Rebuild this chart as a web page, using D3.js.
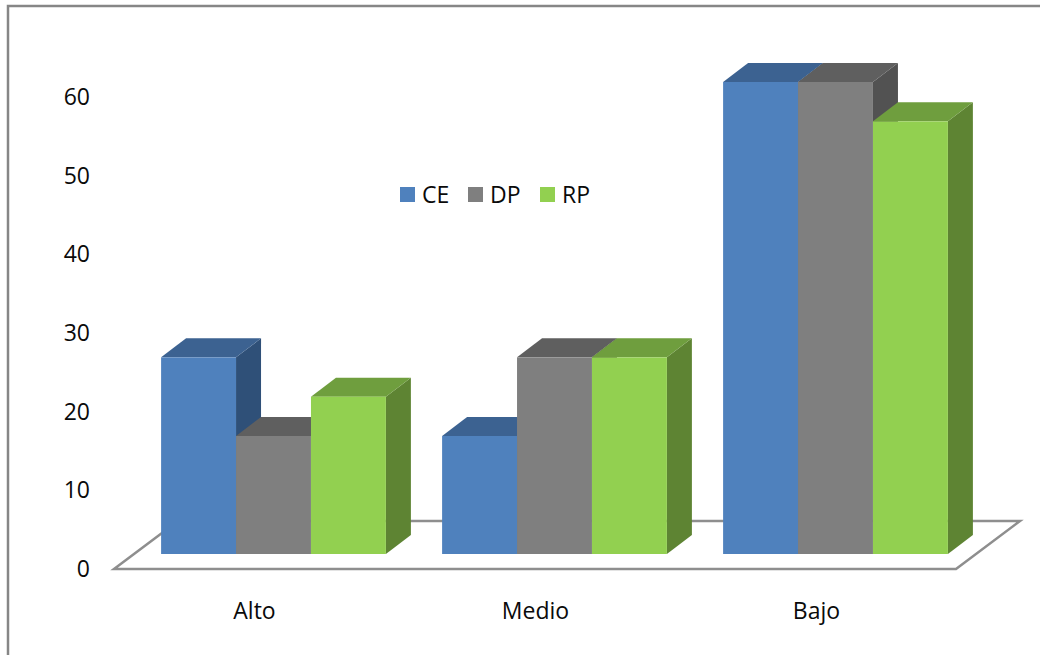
<!DOCTYPE html>
<html>
<head>
<meta charset="utf-8">
<script src="https://cdn.jsdelivr.net/npm/d3@7/dist/d3.min.js"></script>
<style>
html, body { margin: 0; padding: 0; background: #fff; overflow: hidden; }
svg { display: block; }
text { font-family: "Open Sans", Lato, sans-serif; fill: #0a0a0a; }
</style>
</head>
<body>
<svg id="chart" width="1040" height="655"></svg>
<script>
const categories = ["Alto", "Medio", "Bajo"];
const seriesNames = ["CE", "DP", "RP"];
const ceValues = [25, 15, 60];
const dpValues = [15, 25, 60];
const rpValues = [20, 25, 55];
const yTicks = [0, 10, 20, 30, 40, 50, 60];
const frontColors = ["#4f81bd", "#7f7f7f", "#92d050"];
const topColors = ["#3c6291", "#5f5f5f", "#6f9e3e"];
const sideColors = ["#2f5078", "#525252", "#5e8433"];

const svg = d3.select("#chart");
const depth = { x: 25, y: -19 };
const floor = { left: 114, right: 956, front: 569, dx: 64, dy: -48 };
const fontSize = "23px";

const y = d3.scaleLinear().domain([0, 60]).range([554, 82]);
const xGroup = d3.scaleBand().domain(categories).range([133, 976]).paddingInner(0.2).paddingOuter(0.1);
const xSeries = d3.scaleBand().domain(seriesNames).range([0, xGroup.bandwidth()]);
const xLabel = d3.scaleBand().domain(categories).range([floor.left, floor.left + 843]);

// Outer frame: only the top and left edges are visible
svg.append("path")
  .attr("d", "M8,655V6H1040")
  .attr("fill", "none").attr("stroke", "#868686").attr("stroke-width", 2.5);

// Floor of the 3D plot
svg.append("path")
  .attr("d", d3.line()([
    [floor.left, floor.front],
    [floor.right, floor.front],
    [floor.right + floor.dx, floor.front + floor.dy],
    [floor.left + floor.dx, floor.front + floor.dy]
  ]) + "Z")
  .attr("fill", "none").attr("stroke", "#8e8e8e").attr("stroke-width", 2.5);

// One row per bar, in left-to-right painting order
const seriesValues = [ceValues, dpValues, rpValues];
const bars = categories.flatMap((cat, c) =>
  seriesNames.map((name, s) => ({ cat, name, s, value: seriesValues[s][c] })));

const bar = svg.append("g").selectAll("g").data(bars).join("g");

// Right face
bar.append("path")
  .attr("fill", d => sideColors[d.s])
  .attr("d", d => {
    const x1 = xGroup(d.cat) + xSeries(d.name) + xSeries.bandwidth();
    const t = y(d.value), b = y(0);
    return d3.line()([[x1, t], [x1 + depth.x, t + depth.y], [x1 + depth.x, b + depth.y], [x1, b]]) + "Z";
  });

// Top face
bar.append("path")
  .attr("fill", d => topColors[d.s])
  .attr("d", d => {
    const x0 = xGroup(d.cat) + xSeries(d.name);
    const x1 = x0 + xSeries.bandwidth();
    const t = y(d.value);
    return d3.line()([[x0, t], [x1, t], [x1 + depth.x, t + depth.y], [x0 + depth.x, t + depth.y]]) + "Z";
  });

// Front face
bar.append("rect")
  .attr("fill", d => frontColors[d.s])
  .attr("x", d => xGroup(d.cat) + xSeries(d.name))
  .attr("y", d => y(d.value))
  .attr("width", xSeries.bandwidth())
  .attr("height", d => y(0) - y(d.value));

// Value axis, set on the front edge of the floor
const yAxis = svg.append("g")
  .attr("transform", "translate(90,15)")
  .call(d3.axisLeft(y).tickValues(yTicks).tickSize(0).tickPadding(0));
yAxis.select(".domain").remove();
yAxis.selectAll("text").style("font-size", fontSize).attr("fill", "#0a0a0a");

// Category labels under the floor
svg.append("g").selectAll("text").data(categories).join("text")
  .attr("x", d => xLabel(d) + xLabel.bandwidth() / 2)
  .attr("y", 619)
  .attr("text-anchor", "middle")
  .style("font-size", fontSize)
  .text(d => d);

// Legend
const legendX = [400, 468, 540];
const legend = svg.append("g").selectAll("g").data(seriesNames).join("g")
  .attr("transform", (d, i) => `translate(${legendX[i]},187)`);
legend.append("rect").attr("width", 15).attr("height", 15)
  .attr("fill", (d, i) => frontColors[i]);
legend.append("text").attr("x", 22).attr("y", 16)
  .style("font-size", fontSize)
  .text(d => d);
</script>
</body>
</html>
